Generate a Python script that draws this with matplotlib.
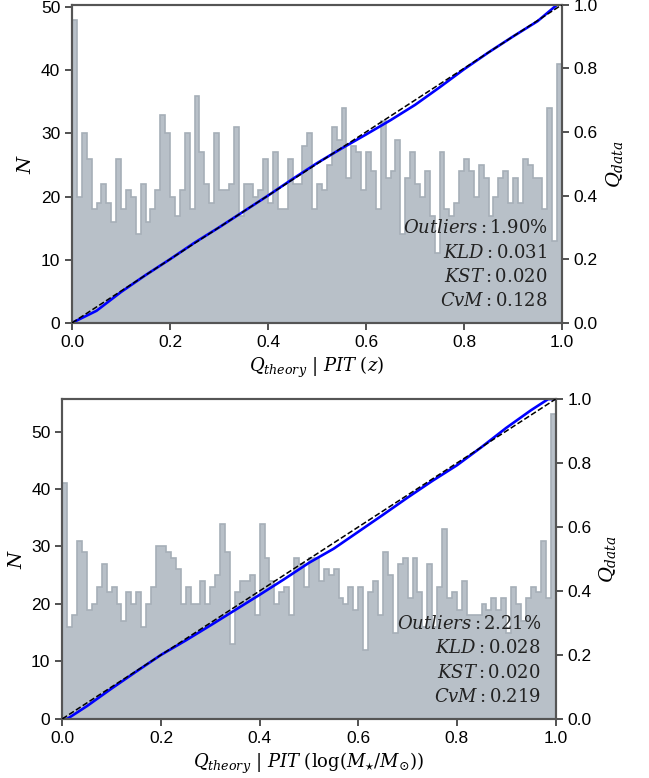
import numpy as np
import matplotlib
matplotlib.use("Agg")
import matplotlib.pyplot as plt

plt.rcParams['font.family'] = ['Liberation Sans', 'DejaVu Sans']
plt.rcParams['mathtext.fontset'] = 'dejavuserif'

# PIT histogram counts, 100 bins on [0, 1]
pit_counts_z = [48, 20, 30, 26, 18, 19, 22, 19, 16, 26,
                18, 21, 20, 14, 22, 16, 18, 21, 33, 30,
                20, 17, 21, 30, 18, 36, 27, 22, 19, 30,
                21, 21, 22, 31, 17, 22, 22, 20, 21, 26,
                19, 27, 18, 18, 26, 22, 22, 28, 30, 18,
                22, 21, 25, 31, 29, 34, 23, 28, 27, 21,
                27, 24, 18, 32, 23, 24, 29, 14, 23, 27,
                22, 20, 24, 17, 11, 27, 18, 17, 19, 24,
                26, 24, 20, 25, 23, 17, 20, 23, 24, 19,
                23, 19, 26, 25, 23, 23, 18, 34, 13, 41]

pit_counts_mass = [41, 16, 18, 31, 29, 19, 20, 23, 27, 22,
                   23, 20, 17, 22, 20, 22, 16, 20, 23, 30,
                   30, 29, 28, 26, 20, 23, 20, 20, 24, 20,
                   23, 25, 34, 29, 13, 22, 24, 24, 25, 18,
                   34, 28, 24, 20, 22, 23, 18, 28, 27, 23,
                   28, 28, 24, 26, 25, 26, 21, 20, 23, 19,
                   23, 12, 22, 24, 18, 29, 25, 15, 27, 28,
                   21, 28, 22, 16, 27, 16, 23, 33, 21, 22,
                   19, 24, 18, 18, 18, 20, 19, 21, 19, 21,
                   15, 23, 20, 17, 21, 23, 22, 31, 21, 53]

# QQ curves: data quantile vs theoretical quantile
q_theory_z = [0.0, 0.05, 0.1, 0.15, 0.2, 0.25, 0.3, 0.35, 0.4, 0.45, 0.5,
              0.55, 0.6, 0.65, 0.7, 0.75, 0.8, 0.85, 0.9, 0.95, 0.99, 1.0]
q_data_z = [0.0, 0.038, 0.097, 0.15, 0.2, 0.252, 0.3, 0.35, 0.4, 0.452, 0.502,
            0.548, 0.592, 0.637, 0.685, 0.74, 0.797, 0.85, 0.9, 0.948, 1.0, 1.0]

q_theory_mass = [0.0, 0.01, 0.05, 0.1, 0.15, 0.2, 0.25, 0.3, 0.35, 0.4, 0.45, 0.5,
                 0.55, 0.6, 0.65, 0.7, 0.75, 0.8, 0.85, 0.9, 0.95, 0.985, 1.0]
q_data_mass = [0.0, 0.0, 0.04, 0.095, 0.148, 0.2, 0.245, 0.292, 0.34, 0.388, 0.437, 0.488,
               0.532, 0.585, 0.638, 0.692, 0.744, 0.793, 0.85, 0.91, 0.965, 1.0, 1.0]

metrics_z = {'Outliers': '1.90\\%', 'KLD': '0.031', 'KST': '0.020', 'CvM': '0.128'}
metrics_mass = {'Outliers': '2.21\\%', 'KLD': '0.028', 'KST': '0.020', 'CvM': '0.219'}

xlabel_z = r'$Q_{theory}\ |\ PIT\ (z)$'
xlabel_mass = r'$Q_{theory}\ |\ PIT\ (\log(M_{\star}/M_{\odot}))$'

edges = np.linspace(0, 1, 101)

fig = plt.figure(figsize=(6.49, 7.78), dpi=100)
ax_top = fig.add_axes([0.111, 0.585, 0.755, 0.409])
ax_bot = fig.add_axes([0.096, 0.076, 0.760, 0.411])


def pit_panel(ax, counts, qt, qd, metrics, xlabel):
    ax.stairs(counts, edges, fill=True, facecolor='#b8c0c8', edgecolor='#a6afb8',
              linewidth=1.2)
    ax.set_xlim(0, 1)
    ax.set_ylim(0, max(counts) * 1.05)
    ax.set_ylabel(r'$N$', fontsize=14)
    ax.set_xlabel(xlabel, fontsize=13)
    ax.set_xticks(np.arange(0, 1.01, 0.2))
    ax.tick_params(labelsize=12.5, length=5, width=1.2, color='#333333')

    ax2 = ax.twinx()
    ax2.plot([0, 1], [0, 1], color='black', ls='--', lw=1.1, zorder=3)
    ax2.plot(qt, qd, color='blue', lw=1.9, zorder=2)
    ax2.set_ylim(0, 1)
    ax2.set_yticks(np.arange(0, 1.01, 0.2))
    ax2.set_ylabel(r'$Q_{data}$', fontsize=14)
    ax2.tick_params(labelsize=12.5, length=5, width=1.2, color='#333333')

    lines = ['$%s: %s$' % (k, v) for k, v in metrics.items()]
    ax2.text(0.97, 0.04, '\n'.join(lines), transform=ax2.transAxes,
             ha='right', va='bottom', multialignment='right', fontsize=13,
             color='#222222', linespacing=1.45)

    for a in (ax, ax2):
        for s in a.spines.values():
            s.set_color('#555555')
            s.set_linewidth(1.5)


pit_panel(ax_top, pit_counts_z, q_theory_z, q_data_z, metrics_z, xlabel_z)
pit_panel(ax_bot, pit_counts_mass, q_theory_mass, q_data_mass, metrics_mass, xlabel_mass)

fig.savefig('out.png', dpi=100)
